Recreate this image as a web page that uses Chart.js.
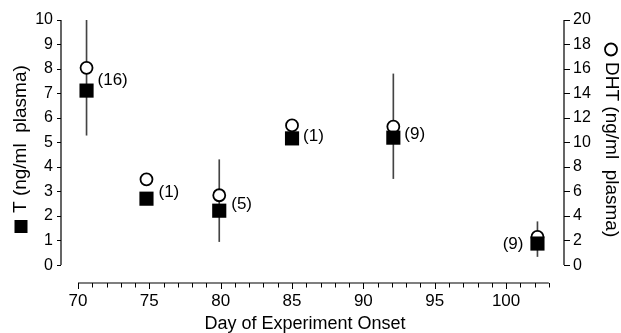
<!DOCTYPE html>
<html lang="en">

<head>
  <meta charset="UTF-8">
  <title>T and DHT by Day of Experiment Onset</title>
  <script src="https://cdn.jsdelivr.net/npm/chart.js"></script>
  <style>
    body {
      margin: 0;
      background: #fff;
    }

    #wrap {
      width: 621px;
      height: 333px;
    }
  </style>
</head>

<body>
  <div id="wrap"><canvas id="myChart"></canvas></div>

  <script>
    // values
    const days = [70.6, 74.8, 79.9, 85.0, 92.1, 102.2];
    const tValues = [7.12, 2.71, 2.22, 5.17, 5.2, 0.88];      // ng/ml, left axis
    const dhtValues = [16.1, 7.0, 5.7, 11.4, 11.3, 2.3];      // ng/ml, right axis
    const errLow = [5.3, null, 0.96, null, 3.53, 0.35];       // in T units
    const errHigh = [10, null, 4.3, null, 7.8, 1.77];
    const counts = ['(16)', '(1)', '(5)', '(1)', '(9)', '(9)'];

    const xTickLabels = [70, 75, 80, 85, 90, 95, 100];
    const xTicks = Array.from({ length: 34 }, (_, i) => 70 + i); // 70..103
    const tTicks = [0, 1, 2, 3, 4, 5, 6, 7, 8, 9, 10];
    const dhtTicks = Array.from({ length: 21 }, (_, i) => i);     // 0..20
    const dhtTickLabels = [0, 2, 4, 6, 8, 10, 12, 14, 16, 18, 20];

    // where the (n) labels sit relative to the T square
    const countOffsets = [[11, -10], [12, -6], [12, -6], [11, -2], [11, -3], [-14, 1]];

    const FONT = '"Liberation Sans", Arial, sans-serif';
    Chart.defaults.font.family = FONT;
    Chart.defaults.color = '#000';

    const errData = days
      .map((d, i) => errLow[i] == null ? null : { x: d, y: [errLow[i], errHigh[i]] })
      .filter(Boolean);

    const tickColorFor = list => c => (c.tick && list.includes(c.tick.value)) ? '#000' : 'rgba(0,0,0,0)';

    // axis lines only over the labelled range, x ticks, and the text bits
    const decorations = {
      id: 'decorations',
      afterDraw(chart) {
        const { ctx, chartArea, scales } = chart;
        const { x, y, y2 } = scales;
        const base = chartArea.bottom;
        ctx.save();
        ctx.strokeStyle = '#000';
        ctx.lineWidth = 1.2;
        ctx.beginPath();
        ctx.moveTo(chartArea.left, y.getPixelForValue(0));
        ctx.lineTo(chartArea.left, y.getPixelForValue(10));
        ctx.moveTo(chartArea.right, y2.getPixelForValue(0));
        ctx.lineTo(chartArea.right, y2.getPixelForValue(20));
        ctx.moveTo(x.getPixelForValue(70), base);
        ctx.lineTo(x.getPixelForValue(103), base);
        ctx.stroke();

        ctx.lineWidth = 1;
        ctx.beginPath();
        xTicks.forEach(v => {
          const px = Math.round(x.getPixelForValue(v)) + 0.5;
          ctx.moveTo(px, base);
          ctx.lineTo(px, base + (xTickLabels.includes(v) ? 6 : 4.5));
        });
        ctx.stroke();

        ctx.fillStyle = '#000';
        ctx.textBaseline = 'middle';
        ctx.font = '17px ' + FONT;
        counts.forEach((c, i) => {
          const [dx, dy] = countOffsets[i];
          ctx.textAlign = dx < 0 ? 'right' : 'left';
          ctx.fillText(c, x.getPixelForValue(days[i]) + dx, y.getPixelForValue(tValues[i]) + dy);
        });

        // axis titles with their marker glyphs
        ctx.font = '19px ' + FONT;
        ctx.textAlign = 'left';
        ctx.save();
        ctx.translate(21, 233);
        ctx.rotate(-Math.PI / 2);
        ctx.fillRect(0, -6.5, 13, 13);
        ctx.fillText('T (ng/ml  plasma)', 20, 0);
        ctx.restore();

        ctx.save();
        ctx.translate(611, 43);
        ctx.rotate(Math.PI / 2);
        ctx.lineWidth = 1.8;
        ctx.beginPath();
        ctx.arc(6.5, 0, 6, 0, Math.PI * 2);
        ctx.stroke();
        ctx.fillText('DHT (ng/ml  plasma)', 19, 0);
        ctx.restore();

        ctx.font = '18px ' + FONT;
        ctx.textAlign = 'center';
        ctx.fillText('Day of Experiment Onset', 305, 324);
        ctx.restore();
      }
    };

    const ctx = document.getElementById('myChart').getContext('2d');

    new Chart(ctx, {
      type: 'scatter',
      data: {
        datasets: [
          {
            label: 'T',
            data: days.map((d, i) => ({ x: d, y: tValues[i] })),
            yAxisID: 'y',
            pointStyle: 'rect',
            pointRadius: 10,
            backgroundColor: '#000',
            borderColor: '#000',
            borderWidth: 0
          },
          {
            label: 'DHT',
            data: days.map((d, i) => ({ x: d, y: dhtValues[i] })),
            yAxisID: 'y2',
            pointStyle: 'circle',
            pointRadius: 6,
            backgroundColor: '#fff',
            borderColor: '#000',
            borderWidth: 1.8
          },
          {
            type: 'bar',
            label: 'range',
            data: errData,
            yAxisID: 'y',
            barThickness: 1,
            backgroundColor: '#444',
            borderWidth: 0
          }
        ]
      },
      options: {
        responsive: true,
        maintainAspectRatio: false,
        animation: false,
        events: [],
        layout: { padding: { top: 20, left: 0, right: 0, bottom: 0 } },
        plugins: {
          legend: { display: false },
          tooltip: { enabled: false }
        },
        scales: {
          x: {
            type: 'linear',
            position: 'bottom',
            min: 68.81,
            max: 104.06,
            offset: false,
            afterBuildTicks: s => { s.ticks = xTicks.map(v => ({ value: v })); },
            afterFit: s => { s.height = 50; },
            border: { display: false },
            grid: {
              drawOnChartArea: false, drawTicks: true, tickLength: 5,
              color: 'rgba(0,0,0,0)', tickColor: 'rgba(0,0,0,0)'
            },
            ticks: {
              autoSkip: false,
              maxRotation: 0,
              padding: 3,
              font: { size: 17 },
              callback: v => xTickLabels.includes(v) ? String(v) : ''
            }
          },
          y: {
            type: 'linear',
            position: 'left',
            min: -0.73,
            max: 10,
            afterBuildTicks: s => { s.ticks = tTicks.map(v => ({ value: v })); },
            afterFit: s => { s.width = 61; },
            border: { display: false },
            grid: {
              drawOnChartArea: false, drawTicks: true, tickLength: 4,
              color: '#000', tickColor: tickColorFor(tTicks)
            },
            ticks: { padding: 4, font: { size: 16 } }
          },
          y2: {
            type: 'linear',
            position: 'right',
            min: -1.46,
            max: 20,
            afterBuildTicks: s => { s.ticks = dhtTicks.map(v => ({ value: v })); },
            afterFit: s => { s.width = 57; },
            border: { display: false },
            grid: {
              drawOnChartArea: false, drawTicks: true, tickLength: 6,
              color: '#000', tickColor: tickColorFor(dhtTicks)
            },
            ticks: {
              padding: 3,
              font: { size: 16 },
              callback: v => dhtTickLabels.includes(v) ? String(v) : ''
            }
          }
        }
      },
      plugins: [decorations]
    });
  </script>
</body>

</html>
